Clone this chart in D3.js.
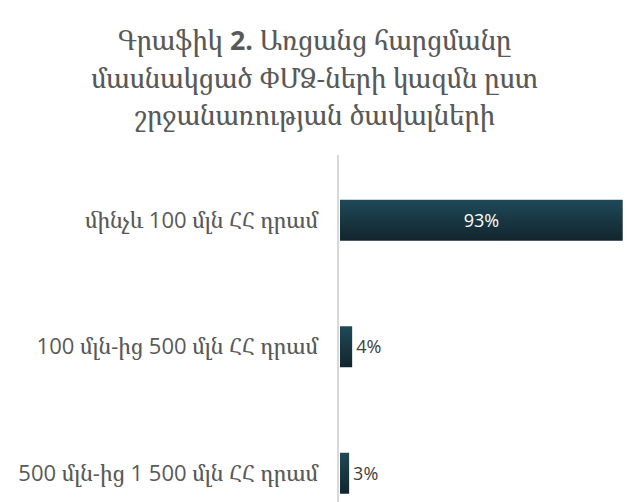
<!DOCTYPE html>
<html>
<head>
<meta charset="utf-8">
<script src="https://cdn.jsdelivr.net/npm/d3@7"></script>
<style>
  html, body { margin: 0; padding: 0; background: #fff; }
  #chart { width: 629px; height: 502px; }
</style>
</head>
<body>
<div id="chart"></div>
<script>
(function () {
  "use strict";

  var titleLines = [
    "Գրաֆիկ 2. Առցանց հարցմանը",
    "մասնակցած ՓՄՁ-ների կազմն ըստ",
    "շրջանառության ծավալների"
  ];
  var categories = [
    "մինչև 100 մլն ՀՀ դրամ",
    "100 մլն-ից 500 մլն ՀՀ դրամ",
    "500 մլն-ից 1 500 մլն ՀՀ դրամ"
  ];
  var values = [93, 4, 3];

  var W = 629, H = 502;
  var margin = { top: 157, left: 340 };
  var step = 126.5;
  var ARM = "'Noto Serif Armenian'";
  var LAT = "'Open Sans', sans-serif";

  // split a string into Armenian / other runs so each gets its own font
  function runs(str) {
    return str.match(/[\u0530-\u058F\uFB13-\uFB17]+|[^\u0530-\u058F\uFB13-\uFB17]+/g) || [];
  }
  function addRuns(sel, str, bold) {
    runs(str).forEach(function (r) {
      var arm = /[\u0530-\u058F]/.test(r);
      var t = sel.append("tspan").text(r).style("font-family", arm ? ARM : LAT);
      if (bold && !arm && /\d/.test(r)) t.style("font-weight", "700");
    });
  }

  var svg = d3.select("#chart").append("svg").attr("width", W).attr("height", H)
    .style("display", "block");

  var grad = svg.append("defs").append("linearGradient").attr("id", "barGrad")
    .attr("x1", 0).attr("y1", 0).attr("x2", 0).attr("y2", 1);
  grad.append("stop").attr("offset", "0%").attr("stop-color", "#1f4959");
  grad.append("stop").attr("offset", "100%").attr("stop-color", "#12252c");

  // ── Title ────────────────────────────────────────────────────────────────
  var title = svg.append("text").attr("text-anchor", "middle").attr("fill", "#595959")
    .style("font-size", "26.8px").attr("xml:space", "preserve");
  titleLines.forEach(function (s, i) {
    var line = title.append("tspan").attr("x", W / 2).attr("y", 50 + i * 37.5);
    addRuns(line, s, i === 0);
  });

  // ── Scales ───────────────────────────────────────────────────────────────
  var x = d3.scaleLinear().domain([0, 100]).range([margin.left, margin.left + 304]);
  var y = d3.scaleBand().domain(categories)
    .range([margin.top, margin.top + step * categories.length])
    .paddingInner(0.676).paddingOuter(0.338);

  // axis line
  svg.append("line").attr("x1", margin.left - 2).attr("x2", margin.left - 2)
    .attr("y1", 155).attr("y2", H).attr("stroke", "#d9d9d9").attr("stroke-width", 2);

  // category labels
  svg.selectAll(".cat").data(categories).enter().append("text").attr("class", "cat")
    .attr("x", 318).attr("y", function (d) { return y(d) + y.bandwidth() / 2; })
    .attr("dy", "0.35em").attr("text-anchor", "end").attr("fill", "#595959")
    .attr("xml:space", "preserve").style("font-size", "22px")
    .each(function (d) { addRuns(d3.select(this), d, false); });

  // bars
  svg.selectAll(".bar").data(values).enter().append("rect").attr("class", "bar")
    .attr("x", x(0))
    .attr("y", function (d, i) { return y(categories[i]); })
    .attr("width", function (d) { return x(d) - x(0); })
    .attr("height", y.bandwidth())
    .attr("fill", "url(#barGrad)");

  // value labels
  svg.selectAll(".val").data(values).enter().append("text").attr("class", "val")
    .attr("x", function (d) { return d > 20 ? (x(0) + x(d)) / 2 : x(d) + 4; })
    .attr("y", function (d, i) { return y(categories[i]) + y.bandwidth() / 2; })
    .attr("dy", "0.35em")
    .attr("text-anchor", function (d) { return d > 20 ? "middle" : "start"; })
    .attr("fill", function (d) { return d > 20 ? "#ffffff" : "#404040"; })
    .style("font-family", LAT).style("font-size", "18px")
    .text(function (d) { return d + "%"; });
})();
</script>
</body>
</html>
